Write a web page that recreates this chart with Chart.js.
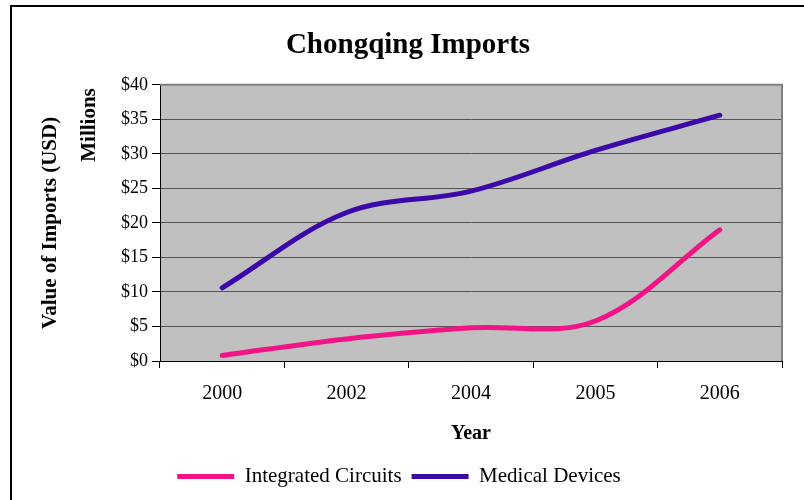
<!DOCTYPE html>
<html>
<head>
<meta charset="utf-8">
<script src="https://cdn.jsdelivr.net/npm/chart.js@4/dist/chart.umd.min.js"></script>
<style>
  html, body { margin: 0; padding: 0; background: #fff; }
  #wrap { width: 804px; height: 500px; position: relative; }
</style>
</head>
<body>
<div id="wrap"><canvas id="c" width="804" height="500"></canvas></div>
<script>
const titleText = 'Chongqing Imports';
const categories = ['2000', '2002', '2004', '2005', '2006'];
const integratedCircuits = [0.8, 3.2, 4.8, 5.8, 19.0];
const medicalDevices = [10.6, 21.5, 24.6, 30.5, 35.6];
const yTickLabels = ['$0', '$5', '$10', '$15', '$20', '$25', '$30', '$35', '$40'];
const yAxisTitle = 'Value of Imports (USD)';
const yUnitLabel = 'Millions';
const xAxisTitle = 'Year';

const SERIF = "'Liberation Serif', 'Times New Roman', serif";

const decor = {
  id: 'decor',
  afterLayout(chart) {
    if (chart.titleBlock) {
      chart.titleBlock.left += 17;
      chart.titleBlock.right += 17;
    }
    if (chart.legend) {
      chart.legend.left += 8;
      chart.legend.right += 8;
    }
  },
  beforeDraw(chart) {
    const ctx = chart.ctx;
    const a = chart.chartArea;
    ctx.save();
    ctx.strokeStyle = '#000';
    ctx.lineWidth = 2;
    ctx.beginPath();
    ctx.moveTo(10, 6);
    ctx.lineTo(804, 6);
    ctx.moveTo(11, 6);
    ctx.lineTo(11, 500);
    ctx.stroke();
    ctx.fillStyle = '#C0C0C0';
    ctx.fillRect(a.left, a.top, a.right - a.left, a.bottom - a.top);
    ctx.restore();
  },
  beforeDatasetsDraw(chart) {
    const ctx = chart.ctx;
    const a = chart.chartArea;
    ctx.save();
    ctx.strokeStyle = '#808080';
    ctx.lineWidth = 2;
    ctx.beginPath();
    ctx.moveTo(a.left, a.top);
    ctx.lineTo(a.right, a.top);
    ctx.lineTo(a.right, a.bottom);
    ctx.stroke();
    ctx.restore();
  },
  afterDraw(chart) {
    const ctx = chart.ctx;
    ctx.save();
    ctx.fillStyle = '#000';
    ctx.font = 'bold 21px ' + SERIF;
    ctx.textAlign = 'center';
    ctx.textBaseline = 'middle';
    ctx.translate(90, 125);
    ctx.rotate(-Math.PI / 2);
    ctx.fillText(yUnitLabel, 0, 0);
    ctx.restore();
  }
};

new Chart(document.getElementById('c'), {
  type: 'line',
  data: {
    labels: categories,
    datasets: [
      {
        label: 'Integrated Circuits',
        data: integratedCircuits,
        borderColor: '#F01486',
        backgroundColor: '#F01486',
        borderWidth: 5,
        borderCapStyle: 'round',
        tension: 0.35,
        pointRadius: 0,
        pointHoverRadius: 0,
        fill: false
      },
      {
        label: 'Medical Devices',
        data: medicalDevices,
        borderColor: '#3C08A8',
        backgroundColor: '#3C08A8',
        borderWidth: 5,
        borderCapStyle: 'round',
        tension: 0.35,
        pointRadius: 0,
        pointHoverRadius: 0,
        fill: false
      }
    ]
  },
  options: {
    responsive: false,
    animation: false,
    devicePixelRatio: 1,
    layout: { padding: { left: 0, right: 22, top: 0, bottom: 3 } },
    plugins: {
      title: {
        display: true,
        text: titleText,
        color: '#000',
        font: { family: SERIF, size: 29, weight: 'bold' },
        padding: { top: 28, bottom: 22 }
      },
      legend: {
        display: true,
        position: 'bottom',
        labels: {
          color: '#000',
          font: { family: SERIF, size: 21 },
          usePointStyle: true,
          pointStyle: 'line',
          pointStyleWidth: 57,
          padding: 10
        }
      },
      tooltip: { enabled: false }
    },
    scales: {
      x: {
        offset: true,
        grid: {
          offset: true,
          drawOnChartArea: false,
          drawTicks: true,
          tickLength: 7,
          tickColor: '#000'
        },
        border: { display: true, color: '#000', width: 1 },
        ticks: {
          color: '#000',
          font: { family: SERIF, size: 20 },
          padding: 14,
          maxRotation: 0
        },
        title: {
          display: true,
          text: xAxisTitle,
          color: '#000',
          font: { family: SERIF, size: 20, weight: 'bold' },
          padding: { top: 0, bottom: 10 }
        },
        afterFit(s) { s.height = 95; }
      },
      y: {
        min: 0,
        max: 40,
        grid: {
          color: '#555',
          lineWidth: 1,
          drawTicks: true,
          tickLength: 8,
          tickColor: '#000'
        },
        border: { display: true, color: '#000', width: 1 },
        ticks: {
          stepSize: 5,
          color: '#000',
          font: { family: SERIF, size: 18 },
          padding: 4,
          callback: (v, i) => yTickLabels[i]
        },
        title: {
          display: true,
          text: yAxisTitle,
          color: '#000',
          font: { family: SERIF, size: 21, weight: 'bold' },
          padding: { top: 38, bottom: 0 }
        },
        afterFit(s) { s.width = 160; }
      }
    }
  },
  plugins: [decor]
});
</script>
</body>
</html>
